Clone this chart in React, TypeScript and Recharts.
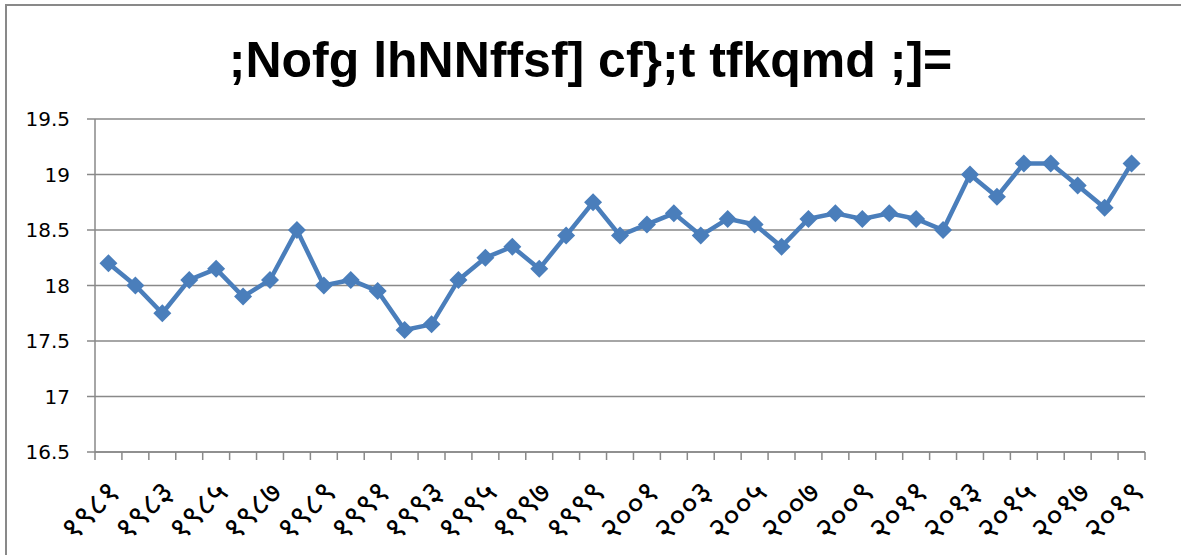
import { LineChart, Line, XAxis, YAxis, CartesianGrid } from 'recharts';

const years = [
  '१९८१', '१९८२', '१९८३', '१९८४', '१९८५', '१९८६', '१९८७', '१९८८', '१९८९', '१९९०',
  '१९९१', '१९९२', '१९९३', '१९९४', '१९९५', '१९९६', '१९९७', '१९९८', '१९९९', '२०००',
  '२००१', '२००२', '२००३', '२००४', '२००५', '२००६', '२००७', '२००८', '२००९', '२०१०',
  '२०११', '२०१२', '२०१३', '२०१४', '२०१५', '२०१६', '२०१७', '२०१८', '२०१९',
];

const temps = [
  18.2, 18.0, 17.75, 18.05, 18.15, 17.9, 18.05, 18.5, 18.0, 18.05,
  17.95, 17.6, 17.65, 18.05, 18.25, 18.35, 18.15, 18.45, 18.75, 18.45,
  18.55, 18.65, 18.45, 18.6, 18.55, 18.35, 18.6, 18.65, 18.6, 18.65,
  18.6, 18.5, 19.0, 18.8, 19.1, 19.1, 18.9, 18.7, 19.1,
];

const yTicks = [16.5, 17, 17.5, 18, 18.5, 19, 19.5];

const title = ';Nofg lhNNffsf] cf};t tfkqmd ;]=';

const data = years.map((year, i) => ({ year, temp: temps[i] }));

const W = 1181;
const H = 555;
const M = { top: 119, right: 36, bottom: 73, left: 0 };
const Y_AXIS_W = 95;
const PLOT_W = W - M.left - M.right - Y_AXIS_W;
const HALF = PLOT_W / years.length / 2;
const GRAY = '#898989';
const BLUE = '#4a7ebb';

// tick marks sit on category boundaries, labels on every other category
const XTick = (props: any) => {
  const { x, y, payload, index } = props;
  const last = index === years.length - 1;
  const lx = x + 14;
  const ly = y + 42;
  return (
    <g>
      <line x1={x - HALF} x2={x - HALF} y1={y} y2={y + 8} stroke={GRAY} strokeWidth={1.5} />
      {last && <line x1={x + HALF} x2={x + HALF} y1={y} y2={y + 8} stroke={GRAY} strokeWidth={1.5} />}
      {index % 2 === 0 && (
        <text
          x={lx}
          y={ly}
          transform={`rotate(-45, ${lx}, ${ly})`}
          textAnchor="end"
          fontSize={32}
          fill="#000"
        >
          {payload.value}
        </text>
      )}
    </g>
  );
};

const Diamond = (props: any) => {
  const { cx, cy } = props;
  if (cx == null || cy == null) return null;
  const r = 9;
  return (
    <polygon
      points={`${cx},${cy - r} ${cx + r},${cy} ${cx},${cy + r} ${cx - r},${cy}`}
      fill={BLUE}
    />
  );
};

export default function App() {
  return (
    <div
      style={{
        position: 'absolute', left: 0, top: 0, width: W, height: H,
        overflow: 'hidden', background: '#fff', fontFamily: '"DejaVu Sans", sans-serif',
      }}
    >
      <div
        style={{
          position: 'absolute', left: 5, top: 4, width: 1300, height: 700,
          borderLeft: `2px solid ${GRAY}`, borderTop: `2px solid ${GRAY}`,
        }}
      />
      <div
        style={{
          position: 'absolute', left: 0, top: 30, width: W, textAlign: 'center',
          fontFamily: '"Liberation Sans Narrow", "Liberation Sans", sans-serif',
          fontWeight: 'bold', fontSize: 50, lineHeight: '60px', color: '#000',
        }}
      >
        {title}
      </div>
      <div style={{ position: 'absolute', left: 0, top: 0 }}>
        <LineChart width={W} height={H} data={data} margin={M}>
          <CartesianGrid vertical={false} stroke={GRAY} strokeWidth={1.5} />
          <XAxis
            dataKey="year"
            interval={0}
            height={30}
            padding={{ left: HALF, right: HALF }}
            tickLine={false}
            tickSize={0}
            tickMargin={0}
            axisLine={{ stroke: GRAY, strokeWidth: 1.5 }}
            tick={<XTick />}
          />
          <YAxis
            width={Y_AXIS_W}
            domain={[16.5, 19.5]}
            ticks={yTicks}
            interval={0}
            tickSize={8}
            tickMargin={17}
            tickLine={{ stroke: GRAY, strokeWidth: 1.5 }}
            axisLine={{ stroke: GRAY, strokeWidth: 1.5 }}
            tick={{ fontSize: 20, fill: '#000' }}
          />
          <Line
            type="linear"
            dataKey="temp"
            stroke={BLUE}
            strokeWidth={4.5}
            dot={<Diamond />}
            activeDot={false}
            isAnimationActive={false}
          />
        </LineChart>
      </div>
    </div>
  );
}
